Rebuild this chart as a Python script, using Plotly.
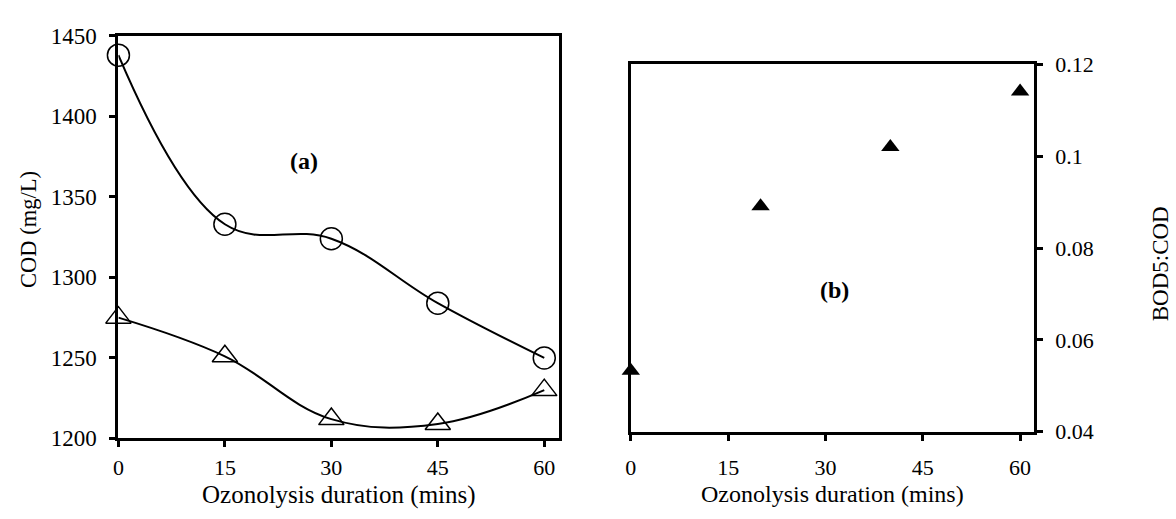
import plotly.graph_objects as go

W, H = 1176, 519

# Data
time_a = [0, 15, 30, 45, 60]
cod_circle = [1438, 1333, 1324, 1284, 1250]
cod_triangle = [1275, 1251, 1212, 1209, 1230]

time_b = [0, 20, 40, 60]
bod_cod = [0.0533, 0.0891, 0.102, 0.1141]

x_ticks = [0, 15, 30, 45, 60]
x_tick_text = ["0", "15", "30", "45", "60"]
ya_ticks = [1200, 1250, 1300, 1350, 1400, 1450]
yb_ticks = [0.04, 0.06, 0.08, 0.1, 0.12]
yb_tick_text = ["0.04", "0.06", "0.08", "0.1", "0.12"]

FONT = "Liberation Serif, Times New Roman, serif"


def px(x):
    return x / W


def py(y):
    return 1 - y / H


fig = go.Figure()

fig.add_trace(go.Scatter(
    x=time_a, y=cod_circle, mode="lines+markers",
    line=dict(color="black", width=2, shape="spline", smoothing=1.1),
    marker=dict(symbol="circle-open", size=22, color="black", line=dict(width=1.5)),
    cliponaxis=False, xaxis="x", yaxis="y", showlegend=False,
))
fig.add_trace(go.Scatter(
    x=time_a, y=cod_triangle, mode="lines+markers",
    line=dict(color="black", width=2, shape="spline", smoothing=1.1),
    marker=dict(symbol="triangle-up-open", size=22, color="black", line=dict(width=1.5)),
    cliponaxis=False, xaxis="x", yaxis="y", showlegend=False,
))
fig.add_trace(go.Scatter(
    x=time_b, y=bod_cod, mode="markers",
    marker=dict(symbol="triangle-up", size=16, color="black"),
    cliponaxis=False, xaxis="x2", yaxis="y2", showlegend=False,
))


def axis_common(fs):
    return dict(
        showline=True, linecolor="black", linewidth=3, mirror=True,
        showgrid=False, zeroline=False,
        ticks="outside", ticklen=6, tickwidth=3, tickcolor="black",
        tickfont=dict(family=FONT, size=fs, color="black"),
    )


fig.update_layout(
    width=W, height=H,
    margin=dict(l=0, r=0, t=0, b=0),
    paper_bgcolor="white", plot_bgcolor="white",
    xaxis=dict(domain=[px(113), px(556)], range=[0, 62.1],
               tickvals=x_ticks, ticktext=x_tick_text, anchor="y",
               ticklabelstandoff=1, **axis_common(22)),
    yaxis=dict(domain=[py(448), py(25)], range=[1200, 1450],
               tickvals=ya_ticks, anchor="x", ticklabelstandoff=8,
               **axis_common(23)),
    xaxis2=dict(domain=[px(628), px(1033)], range=[0, 62.1],
                tickvals=x_ticks, ticktext=x_tick_text, anchor="y2",
                ticklabelstandoff=8, **axis_common(22)),
    yaxis2=dict(domain=[py(441), py(55)], range=[0.04, 0.12],
                tickvals=yb_ticks, ticktext=yb_tick_text, anchor="x2",
                side="right", ticklabelstandoff=8, **axis_common(22)),
)

annots = [
    dict(text="Ozonolysis duration (mins)", x=px(335), y=py(507), size=25, angle=0),
    dict(text="COD (mg/L)", x=px(22), y=py(228), size=22.5, angle=-90),
    dict(text="Ozonolysis duration (mins)", x=px(830.5), y=py(506), size=24, angle=0),
    dict(text="BOD5:COD", x=px(1160), y=py(265), size=23, angle=-90),
    dict(text="<b>(a)</b>", x=px(300), y=py(157), size=24, angle=0),
    dict(text="<b>(b)</b>", x=px(833), y=py(292), size=24, angle=0),
]
for a in annots:
    fig.add_annotation(
        text=a["text"], x=a["x"], y=a["y"], xref="paper", yref="paper",
        xanchor="center", yanchor="middle", showarrow=False, textangle=a["angle"],
        font=dict(family=FONT, size=a["size"], color="black"),
    )

fig.write_html("out.html")
